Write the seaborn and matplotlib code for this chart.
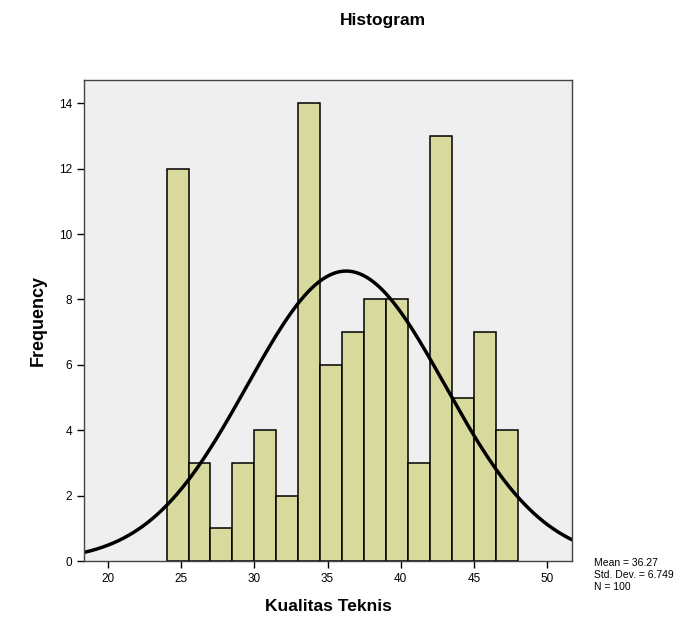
import numpy as np
import pandas as pd
import matplotlib
matplotlib.use("Agg")
import matplotlib.pyplot as plt
import seaborn as sns

# Data
counts = [12, 3, 1, 3, 4, 2, 14, 6, 7, 8, 8, 3, 13, 5, 7, 4]
bin_start = 24.0
bin_width = 1.5
mean_val = 36.27
std_val = 6.749
n_total = 100
x_ticks = [20, 25, 30, 35, 40, 45, 50]
y_ticks = [0, 2, 4, 6, 8, 10, 12, 14]

edges = bin_start + bin_width * np.arange(len(counts) + 1)
centers = (edges[:-1] + edges[1:]) / 2
df = pd.DataFrame({"Kualitas Teknis": centers, "count": counts})

sns.set_style("white")
plt.rcParams["font.family"] = ["Liberation Sans", "DejaVu Sans"]
plt.rcParams["text.color"] = "black"
plt.rcParams["axes.labelcolor"] = "black"

fig = plt.figure(figsize=(6.96, 6.38), dpi=100)
ax = fig.add_axes([84/696, 1 - 561/638, (572-84)/696, (561-80)/638])
ax.set_facecolor("#efefef")

sns.histplot(data=df, x="Kualitas Teknis", weights="count", bins=edges.tolist(),
             color="#d8d99c", alpha=1.0, edgecolor="black", linewidth=1.1, ax=ax)

xmin, xmax = 18.36, 51.7
xs = np.linspace(xmin, xmax, 400)
ys = n_total * bin_width / (std_val * np.sqrt(2 * np.pi)) * np.exp(-0.5 * ((xs - mean_val) / std_val) ** 2)
sns.lineplot(x=xs, y=ys, color="black", linewidth=2.5, ax=ax)

ax.set_xlim(xmin, xmax)
ax.set_ylim(0, 14.71)
ax.set_xticks(x_ticks)
ax.set_yticks(y_ticks)
ax.tick_params(axis="both", direction="out", length=5, width=1, labelsize=8.5,
               colors="black", bottom=True, left=True)
for s in ax.spines.values():
    s.set_color("#444444")
    s.set_linewidth(1.0)

ax.set_xlabel("Kualitas Teknis", fontsize=12.5, fontweight="bold", labelpad=10)
ax.set_ylabel("Frequency", fontsize=13, fontweight="bold", labelpad=9)

fig.text(383/696, 1 - 20/638, "Histogram", ha="center", va="center", fontsize=12.5, fontweight="bold")
fig.text(594/696, 1 - 575/638, f"Mean = {mean_val}\nStd. Dev. = {std_val}\nN = {n_total}",
         ha="left", va="center", fontsize=7.5, linespacing=1.25)

fig.savefig("out.png", dpi=100)
